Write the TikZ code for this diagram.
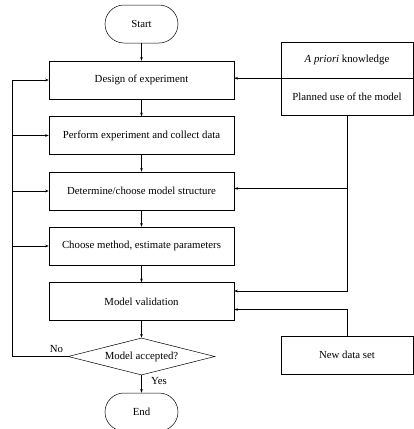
\documentclass[tikz,border=0pt]{standalone}
\usepackage{fontspec}
\setmainfont{Liberation Serif}
\usetikzlibrary{shapes.geometric,shapes.misc,arrows.meta,calc}

\begin{document}
\begin{tikzpicture}
  [
    x=1pt, y=-1pt,
    font=\fontsize{10.8}{13}\selectfont,
    line width=0.5pt,
    >={Stealth[length=3.5pt,width=2.5pt]},
    block/.style =
      {draw, rectangle, align=center, minimum width=185pt, minimum height=38pt, inner sep=0pt},
    side/.style =
      {draw, rectangle, align=center, minimum width=132pt, minimum height=38pt, inner sep=0pt},
    term/.style =
      {draw, rounded rectangle, minimum width=73pt, minimum height=38pt, inner sep=0pt},
    test/.style =
      {draw, diamond, aspect=4, minimum width=147pt, minimum height=37pt, inner sep=0pt}
  ]

\useasboundingbox (0,0) rectangle (414,429);

\node[term]  (start)   at (141.5,24)    {Start};
\node[block] (design)  at (141.5,80)    {Design of experiment};
\node[block] (perform) at (141.5,135.5) {Perform experiment and collect data};
\node[block] (struct)  at (141.5,191)   {Determine/choose model structure};
\node[block] (method)  at (141.5,246)   {Choose method, estimate parameters};
\node[block] (valid)   at (141.5,301.5) {Model validation};
\node[test]  (accept)  at (141.5,356.5) {Model accepted?};
\node[term]  (end)     at (141.5,412)   {End};

\node[side, minimum height=36pt] (prior)   at (347,60)   {\textit{A priori} knowledge};
\node[side, minimum height=37pt] (use)     at (347,96.5) {Planned use of the model};
\node[side]                      (newdata) at (347,355)  {New data set};

\draw [->] (start.south)   -- (design.north);
\draw [->] (design.south)  -- (perform.north);
\draw [->] (perform.south) -- (struct.north);
\draw [->] (struct.south)  -- (method.north);
\draw [->] (method.south)  -- (valid.north);
\draw [->] (valid.south)   -- (accept.north);
\draw [->] (accept.south)  -- node[right=6pt, pos=0.35] {Yes} (end.north);

% feedback when the model is rejected
\coordinate (loop) at ($(accept.west)+(-56,0)$);
\draw [->] (accept.west) -- node[above, pos=0.2] {No} (loop) |- (design.west);
\draw [->] (loop |- perform.west) -- (perform.west);
\draw [->] (loop |- struct.west)  -- (struct.west);
\draw [->] (loop |- method.west)  -- (method.west);

% prior knowledge and new data
\draw [->] (prior.south west) -- (prior.south west -| design.east);
\draw [->] (use.south) |- ($(valid.east)+(0,-10.5)$);
\draw [->] (use.south |- struct.east) ++(0,-2.5) -- ($(struct.east)+(0,-2.5)$);
\draw [->] (newdata.north) |- ($(valid.east)+(0,8)$);

\end{tikzpicture}
\end{document}
